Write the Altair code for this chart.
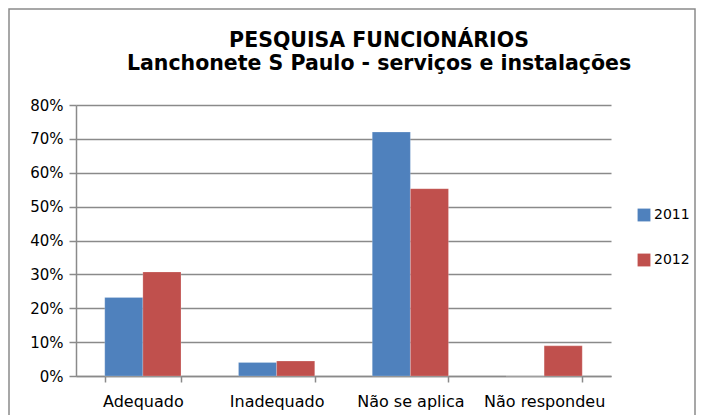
import altair as alt
import pandas as pd

categories = ["Adequado", "Inadequado", "Não se aplica", "Não respondeu"]
years = ["2011", "2012"]
values_2011 = [0.232, 0.040, 0.720, 0.0]
values_2012 = [0.307, 0.044, 0.553, 0.089]
y_ticks = [0, 0.1, 0.2, 0.3, 0.4, 0.5, 0.6, 0.7, 0.8]
colors = ["#4F81BD", "#C0504D"]
title_lines = ["PESQUISA FUNCIONÁRIOS", "Lanchonete S Paulo - serviços e instalações"]

rows = []
for c, v in zip(categories, values_2011):
    rows.append({"cat": c, "year": "2011", "val": v})
for c, v in zip(categories, values_2012):
    rows.append({"cat": c, "year": "2012", "val": v})
df = pd.DataFrame(rows)

W, H = 535, 271
grid_color = "#8a8a8a"

bars = alt.Chart(df).mark_bar(stroke="#ffffff", strokeWidth=0.5, strokeOpacity=0.4).encode(
    x=alt.X("cat:N", sort=categories, title=None,
            scale=alt.Scale(paddingInner=0.43, paddingOuter=0.215),
            axis=alt.Axis(labelAngle=0, labelFont="DejaVu Sans", labelFontSize=16,
                          labelColor="#000000", labelPadding=11, tickBand="extent",
                          tickSize=6, tickColor=grid_color, domainColor=grid_color,
                          domainWidth=1.5, tickWidth=1.5, grid=False)),
    xOffset=alt.XOffset("year:N", sort=years, scale=alt.Scale(paddingInner=0, paddingOuter=0)),
    y=alt.Y("val:Q", title=None,
            scale=alt.Scale(domain=[0, 0.8], nice=False),
            axis=alt.Axis(values=y_ticks, format=".0%", labelFont="DejaVu Sans",
                          labelFontSize=15, labelColor="#000000", labelPadding=6,
                          tickSize=7, tickColor=grid_color, domainColor=grid_color,
                          domainWidth=1.5, tickWidth=1.5, grid=True,
                          gridColor=grid_color, gridWidth=1.3)),
    color=alt.Color("year:N", sort=years,
                    scale=alt.Scale(domain=years, range=colors),
                    legend=alt.Legend(title=None, orient="none", legendX=561, legendY=103,
                                      symbolType="square", symbolSize=165,
                                      symbolStrokeWidth=0, labelFont="DejaVu Sans",
                                      labelFontSize=14, labelColor="#000000",
                                      rowPadding=31, labelOffset=3)),
)

one = pd.DataFrame({"a": [0]})

border = alt.Chart(one).mark_rect(
    fillOpacity=0, stroke="#8a8a8a", strokeWidth=1.5
).encode(
    x=alt.value(-67), x2=alt.value(619), y=alt.value(-96), y2=alt.value(340)
)

title1 = alt.Chart(one).mark_text(
    text=title_lines[0], font="DejaVu Sans", fontSize=20.5, fontWeight="bold",
    color="#000000", align="center", baseline="alphabetic"
).encode(x=alt.value(303), y=alt.value(-58))

title2 = alt.Chart(one).mark_text(
    text=title_lines[1], font="DejaVu Sans", fontSize=20.5, fontWeight="bold",
    color="#000000", align="center", baseline="alphabetic"
).encode(x=alt.value(303), y=alt.value(-35))

chart = alt.layer(border, title1, title2, bars).properties(
    width=W, height=H,
    autosize=alt.AutoSizeParams(type="none"),
    padding={"left": 68, "top": 97, "right": 86, "bottom": 40},
).configure_view(stroke=None)

chart.save("out.html", embed_options={"renderer": "svg", "actions": False})
